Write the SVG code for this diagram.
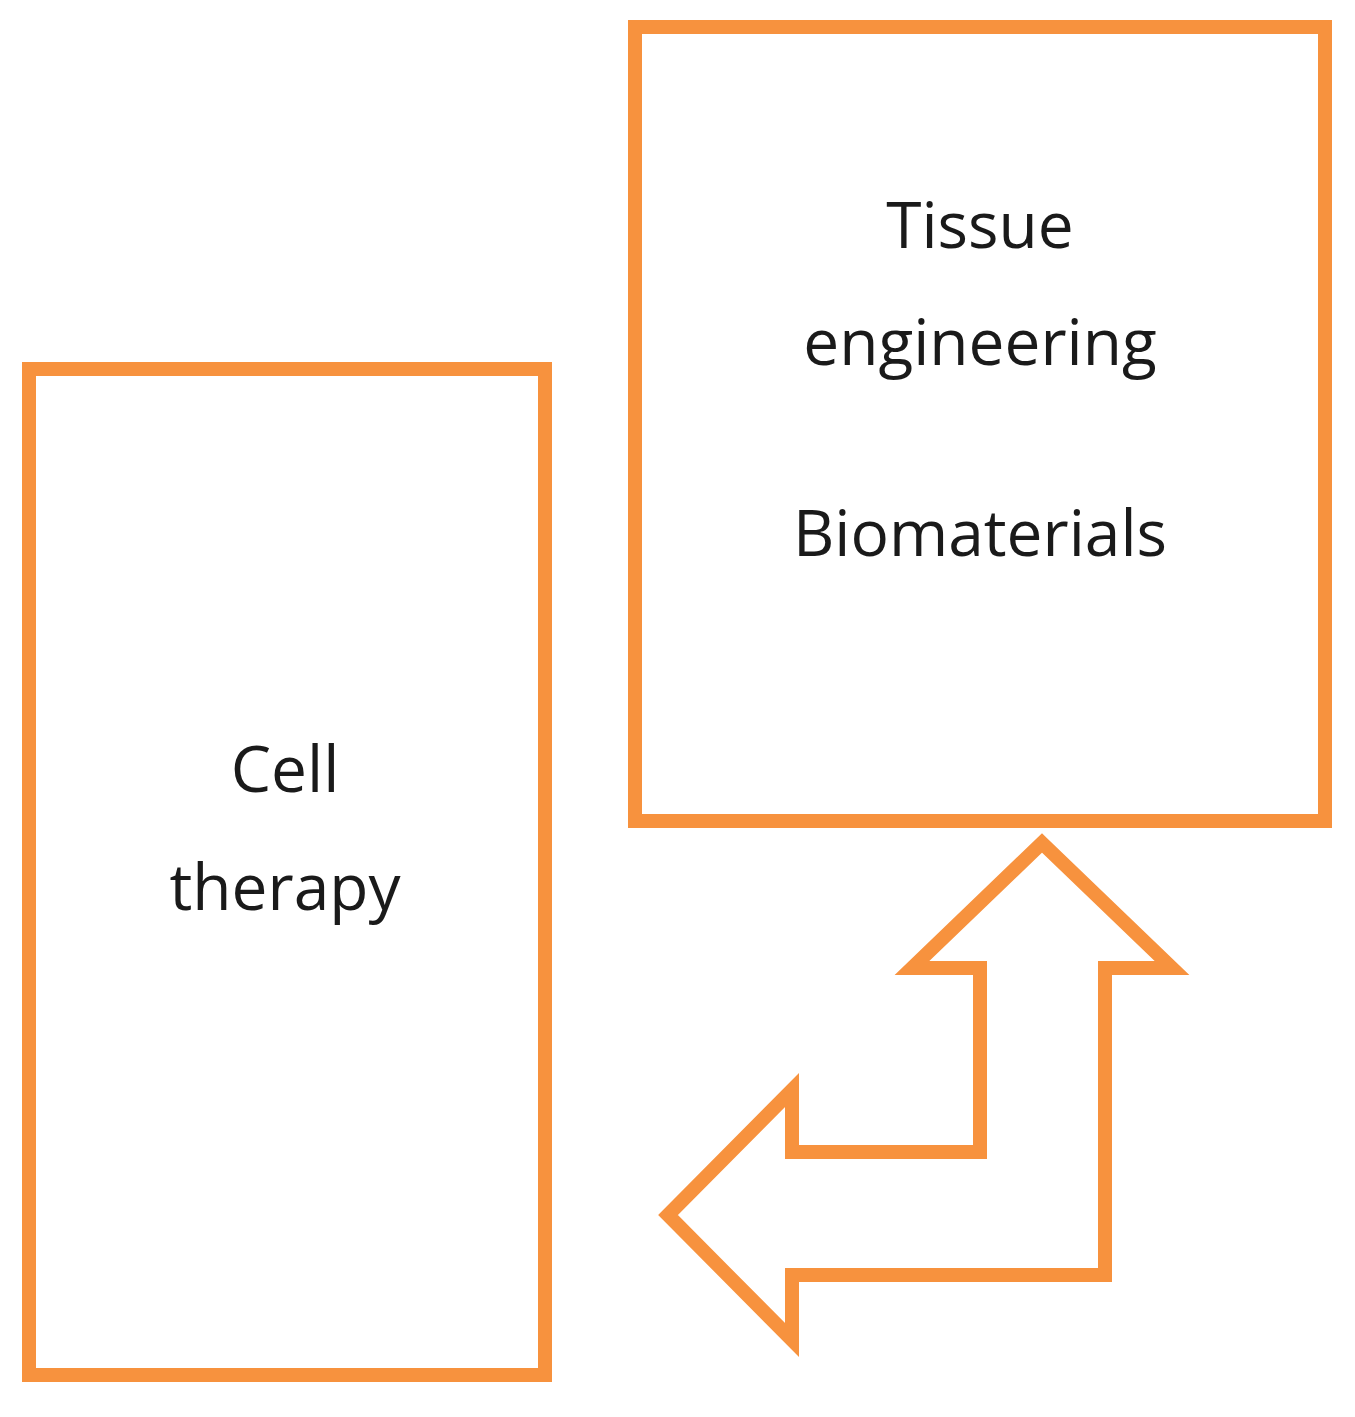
<svg xmlns="http://www.w3.org/2000/svg" width="1355" height="1417" viewBox="0 0 1355 1417">
<style>
.b{fill:#fff;stroke:#f7923e;stroke-width:14}
.t{font-family:"Open Sans","Liberation Sans",sans-serif;font-size:64px;fill:#1a1a1a;text-anchor:middle}
</style>
<rect width="1355" height="1417" fill="#fff"/>
<g id="cell-therapy">
<rect class="b" x="29" y="369" width="516" height="1006"/>
<text class="t" x="285" y="792">Cell</text>
<text class="t" x="285" y="910">therapy</text>
</g>
<g id="tissue-engineering">
<rect class="b" x="635" y="27" width="690" height="794"/>
<text class="t" x="980" y="248">Tissue</text>
<text class="t" x="980" y="365">engineering</text>
<text class="t" x="980" y="556">Biomaterials</text>
</g>
<g id="connectors">
<path class="b" stroke-linejoin="miter" d="M1042,843 L1172,968 L1105,968 L1105,1275 L792,1275 L792,1340 L668,1215 L792,1090 L792,1152 L980,1152 L980,968 L912,968 Z"/>
</g>
</svg>
